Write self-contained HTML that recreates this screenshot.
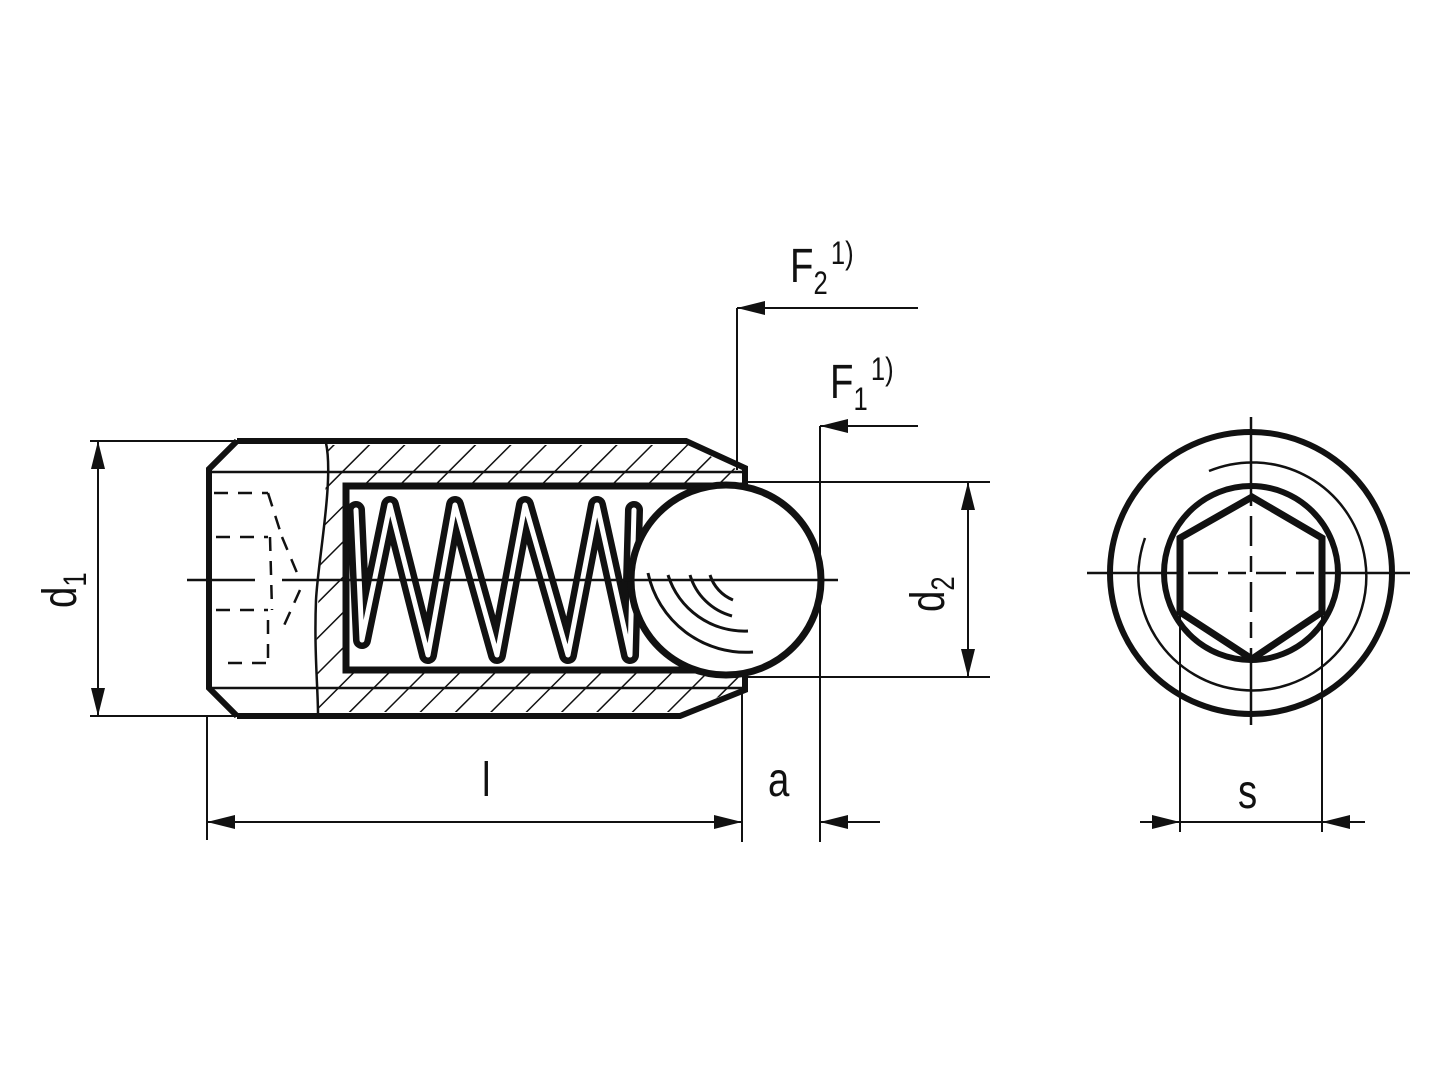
<!DOCTYPE html>
<html><head><style>body{margin:0;background:#fff}svg{display:block}text{font-family:"Liberation Sans",sans-serif;fill:#111}</style></head><body>
<svg width="1440" height="1080" viewBox="0 0 1440 1080" xmlns="http://www.w3.org/2000/svg">
<defs>
<pattern id="h" patternUnits="userSpaceOnUse" width="25" height="25" patternTransform="rotate(45)"><line x1="0" y1="0" x2="0" y2="25" stroke="#111" stroke-width="3"/></pattern>
<marker id="ar" viewBox="0 0 20 10" refX="20" refY="5" markerWidth="30" markerHeight="14" markerUnits="userSpaceOnUse" orient="auto-start-reverse"><path d="M0,0 L20,5 L0,10Z" fill="#111"/></marker>
</defs>
<g fill="none" stroke="#111" stroke-linecap="butt">
<path d="M328,445 L688,445 L742,472 L742,486 L346,486 L346,670 L742,670 L742,688 L680,712 L318,712 C312,650 322,560 328,445Z" fill="url(#h)" stroke="none"/>
<path d="M237,441 L686,441 L745,468 L745,486" stroke-width="6"/>
<path d="M237,716 L680,716 L745,690 L745,672" stroke-width="6"/>
<path d="M237,441 L209,469 L209,688 L237,716" stroke-width="6"/>
<line x1="209" y1="472" x2="745" y2="472" stroke-width="2.5"/>
<line x1="209" y1="688" x2="745" y2="688" stroke-width="2.5"/>
<path d="M326,443 C334,480 318,560 316,600 C314,650 318,690 318,714" stroke-width="2.5"/>
<path d="M742,486 L346,486 L346,670 L742,670" stroke-width="7" fill="#fff"/>
<g stroke-width="2.5" stroke-dasharray="14,10">
<line x1="214" y1="493" x2="268" y2="493"/><line x1="268" y1="493" x2="282" y2="537"/>
<line x1="216" y1="537" x2="268" y2="537"/><line x1="282" y1="537" x2="300" y2="580"/>
<line x1="216" y1="610" x2="268" y2="610"/><line x1="300" y1="590" x2="282" y2="630"/>
<line x1="228" y1="663" x2="268" y2="663"/><line x1="268" y1="620" x2="268" y2="663"/>
<line x1="270" y1="537" x2="272" y2="610"/>
</g>
<g stroke-linejoin="round" stroke-linecap="round">
<path d="M356,510 L362,640 L390,505 L428,655 L455,505 L497,655 L525,505 L568,655 L597,505 L630,655 L634,510" stroke="#111" stroke-width="18"/>
<path d="M356,510 L362,640 L390,505 L428,655 L455,505 L497,655 L525,505 L568,655 L597,505 L630,655 L634,510" stroke="#fff" stroke-width="5"/>
</g>
<circle cx="726" cy="580" r="95" fill="#fff" stroke-width="7"/>
<g stroke-width="3">
<path d="M648,573 A100,100 0 0 0 753,652"/>
<path d="M668,575 A80,80 0 0 0 748,631"/>
<path d="M690,575 A60,60 0 0 0 732,616"/>
<path d="M710,575 A40,40 0 0 0 733,600"/>
</g>
<line x1="187" y1="580" x2="255" y2="580" stroke-width="2.5"/>
<line x1="282" y1="580" x2="838" y2="580" stroke-width="2.5"/>
<g stroke-width="2">
<line x1="90" y1="441" x2="237" y2="441"/><line x1="90" y1="716" x2="237" y2="716"/>
<line x1="98" y1="441" x2="98" y2="716" marker-start="url(#ar)" marker-end="url(#ar)"/>
<line x1="745" y1="482" x2="990" y2="482"/><line x1="745" y1="677" x2="990" y2="677"/>
<line x1="968" y1="482" x2="968" y2="677" marker-start="url(#ar)" marker-end="url(#ar)"/>
<line x1="207" y1="716" x2="207" y2="840"/>
<line x1="742" y1="690" x2="742" y2="842"/>
<line x1="820" y1="426" x2="820" y2="842"/>
<line x1="207" y1="822" x2="742" y2="822" marker-start="url(#ar)" marker-end="url(#ar)"/>
<line x1="880" y1="822" x2="820" y2="822" marker-end="url(#ar)"/>
<line x1="737" y1="308" x2="737" y2="470"/>
<line x1="918" y1="308" x2="737" y2="308" marker-end="url(#ar)"/>
<line x1="918" y1="426" x2="820" y2="426" marker-end="url(#ar)"/>
<line x1="1180" y1="538" x2="1180" y2="832"/>
<line x1="1322" y1="538" x2="1322" y2="832"/>
<line x1="1140" y1="822" x2="1180" y2="822" marker-end="url(#ar)"/>
<line x1="1365" y1="822" x2="1322" y2="822" marker-end="url(#ar)"/>
<line x1="1180" y1="822" x2="1322" y2="822"/>
</g>
<circle cx="1251" cy="573" r="141" stroke-width="6"/>
<path d="M1145,538 A114,114 0 1 0 1209,471" stroke-width="2.5"/>
<circle cx="1251" cy="573" r="87" stroke-width="6"/>
<polygon points="1252,497 1322,538 1322,612 1252,659 1180,612 1180,538" stroke-width="7" stroke-linejoin="miter"/>
<line x1="1087" y1="573" x2="1160" y2="573" stroke-width="2.5"/>
<line x1="1340" y1="573" x2="1410" y2="573" stroke-width="2.5"/>
<line x1="1160" y1="573" x2="1340" y2="573" stroke-width="2.5" stroke-dasharray="18,10,30,10"/>
<line x1="1251" y1="417" x2="1251" y2="490" stroke-width="2.5"/>
<line x1="1251" y1="660" x2="1251" y2="725" stroke-width="2.5"/>
<line x1="1251" y1="490" x2="1251" y2="660" stroke-width="2.5" stroke-dasharray="16,10,30,10"/>
</g>
<text x="0" y="0" font-size="48" transform="translate(76,608) rotate(-90) scale(0.8,1)">d<tspan font-size="32" dy="10">1</tspan></text>
<text x="0" y="0" font-size="48" transform="translate(944,612) rotate(-90) scale(0.8,1)">d<tspan font-size="32" dy="10">2</tspan></text>
<text x="0" y="0" font-size="48" transform="translate(482,796) scale(0.8,1)">l</text>
<text x="0" y="0" font-size="48" transform="translate(768,796) scale(0.8,1)">a</text>
<text x="0" y="0" font-size="48" transform="translate(1238,808) scale(0.8,1)">s</text>
<text x="0" y="0" font-size="48" transform="translate(790,282) scale(0.8,1)">F<tspan font-size="32" dy="12">2</tspan><tspan font-size="32" dy="-30" dx="4">1)</tspan></text>
<text x="0" y="0" font-size="48" transform="translate(830,398) scale(0.8,1)">F<tspan font-size="32" dy="12">1</tspan><tspan font-size="32" dy="-30" dx="4">1)</tspan></text>
</svg>
</body></html>
